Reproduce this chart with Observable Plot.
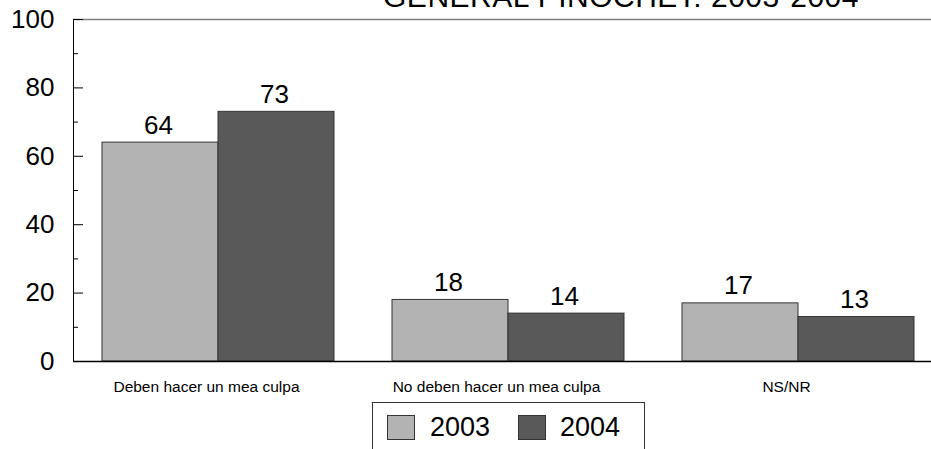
<!DOCTYPE html>
<html>
<head>
<meta charset="utf-8">
<script src="https://cdn.jsdelivr.net/npm/d3@7"></script>
<script src="https://cdn.jsdelivr.net/npm/@observablehq/plot@0.6"></script>
<style>
  html, body { margin: 0; padding: 0; background: #fff; overflow: hidden; width: 931px; height: 449px; }
  body { position: relative; font-family: "Liberation Sans", Arial, sans-serif; }
  #title { position: absolute; z-index: 2; left: 0; top: -18px; width: 1242px; text-align: center; font-size: 30px; line-height: 30px; letter-spacing: 0.5px; color: #000; white-space: nowrap; }
  #chart { position: absolute; left: 0; top: 0; width: 943px; }
  #chart svg { max-width: none; }
  #legend { position: absolute; left: 372px; top: 402px; width: 271px; height: 60px; border: 1px solid #333; border-bottom: none; }
  .sw { position: absolute; top: 12px; width: 26px; height: 23px; border: 1px solid #333; }
  .lab { position: absolute; top: 9px; font-size: 27px; line-height: 30px; color: #000; }
</style>
</head>
<body>
<div id="title">GENERAL PINOCHET: 2003-2004</div>
<div id="chart"></div>
<div id="legend"></div>
<script>
const categories = ["Deben hacer un mea culpa", "No deben hacer un mea culpa", "NS/NR"];
const years = ["2003", "2004"];
const values2003 = [64, 18, 17];
const values2004 = [73, 14, 13];
const colors = ["#b3b3b3", "#595959"];
const majorTicks = [0, 20, 40, 60, 80, 100];
const minorTicks = [10, 30, 50, 70, 90];

const rows2003 = categories.map((c, i) => ({category: c, year: "2003", value: values2003[i]}));
const rows2004 = categories.map((c, i) => ({category: c, year: "2004", value: values2004[i]}));

const half = 116;
const plot = Plot.plot({
  width: 943,
  height: 400,
  marginLeft: 73,
  marginRight: 0,
  marginTop: 19,
  marginBottom: 39,
  style: {fontFamily: "'Liberation Sans', Arial, sans-serif", background: "transparent", overflow: "visible", maxWidth: "none"},
  x: {domain: categories, paddingInner: 0.2, paddingOuter: 0.1, label: null},
  y: {domain: [0, 100], label: null},
  marks: [
    Plot.frame({stroke: "#000"}),
    Plot.ruleY([100], {stroke: "#808080", strokeWidth: 1.5}),
    Plot.barY(rows2003, {x: "category", y: "value", fill: colors[0], stroke: "#333", strokeWidth: 1, insetRight: half}),
    Plot.barY(rows2004, {x: "category", y: "value", fill: colors[1], stroke: "#333", strokeWidth: 1, insetLeft: half}),
    Plot.text(rows2003, {x: "category", y: "value", text: d => String(d.value), dx: -half / 2 - 2, dy: -9, lineAnchor: "bottom", fontSize: 26, fill: "#000"}),
    Plot.text(rows2004, {x: "category", y: "value", text: d => String(d.value), dx: half / 2 - 2, dy: -9, lineAnchor: "bottom", fontSize: 26, fill: "#000"}),
    Plot.ruleY([0], {stroke: "#000", strokeWidth: 1.5}),
    Plot.axisY({ticks: majorTicks, tickSize: 0, tickPadding: 19, fontSize: 26, tickFormat: d => String(d)}),
    Plot.axisY({ticks: majorTicks, tickSize: 10, dx: 10, text: null, stroke: "#000"}),
    Plot.axisY({ticks: minorTicks, tickSize: 5, dx: 5, text: null, stroke: "#000"}),
    Plot.axisX({tickSize: 0, tickPadding: 19, fontSize: 15.5, dx: -12})
  ]
});
document.getElementById("chart").appendChild(plot);

const legend = document.getElementById("legend");
const swLeft = [14, 145];
const labLeft = [57, 187];
years.forEach((y, i) => {
  const sw = document.createElement("div");
  sw.className = "sw";
  sw.style.left = swLeft[i] + "px";
  sw.style.background = colors[i];
  legend.appendChild(sw);
  const lab = document.createElement("div");
  lab.className = "lab";
  lab.style.left = labLeft[i] + "px";
  lab.textContent = y;
  legend.appendChild(lab);
});
</script>
</body>
</html>
